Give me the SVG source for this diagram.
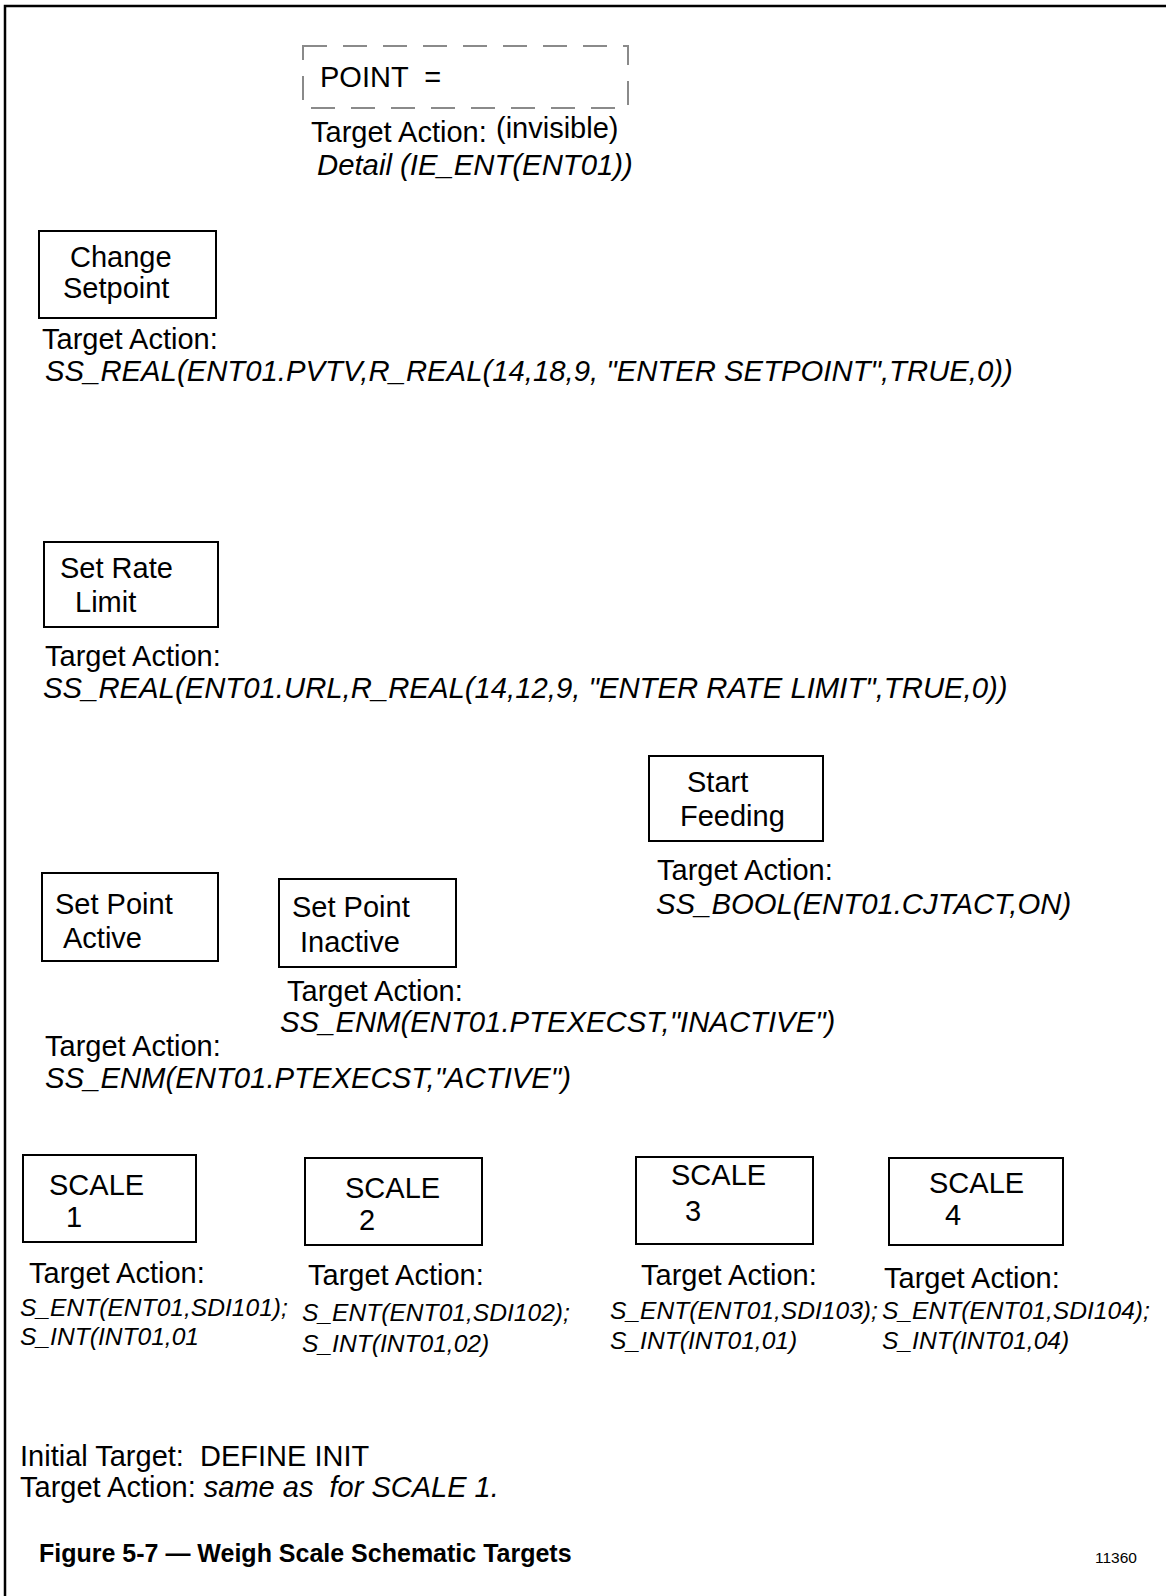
<svg xmlns="http://www.w3.org/2000/svg" width="1166" height="1596" viewBox="0 0 1166 1596">
  <style>
    text { font-family: "Liberation Sans", Arial, sans-serif; fill: #000; white-space: pre; }
    .t { font-size: 29px; }
    .it { font-size: 29.3px; font-style: italic; }
    .sm { font-size: 24.6px; font-style: italic; }
    .box { fill: #fff; stroke: #000; stroke-width: 2; }
    .dash { fill: none; stroke: #8a8a8a; stroke-width: 2; stroke-dasharray: 24 16; }
    .cap { font-size: 25px; font-weight: bold; }
    .num { font-size: 15.5px; }
  </style>
  <rect width="1166" height="1596" fill="#fff"/>
  <!-- page frame: top and left rules only -->
  <path d="M5,1596 V6 H1166" fill="none" stroke="#000" stroke-width="2.5"/>

  <g id="connectors"/>

  <g id="point">
    <rect class="dash" x="303" y="46" width="325" height="62"/>
    <text class="t" x="320" y="87">POINT  =</text>
    <text class="t" x="311" y="142">Target Action:</text>
    <text class="t" x="496" y="138">(invisible)</text>
    <text class="it" x="317" y="175" font-size="28.5px">Detail (IE_ENT(ENT01))</text>
  </g>

  <g id="change-setpoint">
    <rect class="box" x="39" y="231" width="177" height="87"/>
    <text class="t" x="70" y="267">Change</text>
    <text class="t" x="63" y="298">Setpoint</text>
    <text class="t" x="42" y="349">Target Action:</text>
    <text class="it" x="45" y="381">SS_REAL(ENT01.PVTV,R_REAL(14,18,9, "ENTER SETPOINT",TRUE,0))</text>
  </g>

  <g id="set-rate-limit">
    <rect class="box" x="44" y="542" width="174" height="85"/>
    <text class="t" x="60" y="578">Set Rate</text>
    <text class="t" x="75" y="612">Limit</text>
    <text class="t" x="45" y="666">Target Action:</text>
    <text class="it" x="43" y="698">SS_REAL(ENT01.URL,R_REAL(14,12,9, "ENTER RATE LIMIT",TRUE,0))</text>
  </g>

  <g id="start-feeding">
    <rect class="box" x="649" y="756" width="174" height="85"/>
    <text class="t" x="687" y="792">Start</text>
    <text class="t" x="680" y="826">Feeding</text>
    <text class="t" x="657" y="880">Target Action:</text>
    <text class="it" x="656" y="914">SS_BOOL(ENT01.CJTACT,ON)</text>
  </g>

  <g id="set-point-active">
    <rect class="box" x="42" y="873" width="176" height="88"/>
    <text class="t" x="55" y="914">Set Point</text>
    <text class="t" x="63" y="948">Active</text>
    <text class="t" x="45" y="1056">Target Action:</text>
    <text class="it" x="45" y="1088">SS_ENM(ENT01.PTEXECST,"ACTIVE")</text>
  </g>

  <g id="set-point-inactive">
    <rect class="box" x="279" y="879" width="177" height="88"/>
    <text class="t" x="292" y="917">Set Point</text>
    <text class="t" x="300" y="952">Inactive</text>
    <text class="t" x="287" y="1001">Target Action:</text>
    <text class="it" x="280" y="1032">SS_ENM(ENT01.PTEXECST,"INACTIVE")</text>
  </g>

  <g id="scale-1">
    <rect class="box" x="23" y="1155" width="173" height="87"/>
    <text class="t" x="49" y="1195">SCALE</text>
    <text class="t" x="66" y="1227">1</text>
    <text class="t" x="29" y="1283">Target Action:</text>
    <text class="sm" x="20" y="1316">S_ENT(ENT01,SDI101);</text>
    <text class="sm" x="20" y="1345">S_INT(INT01,01</text>
  </g>

  <g id="scale-2">
    <rect class="box" x="305" y="1158" width="177" height="87"/>
    <text class="t" x="345" y="1198">SCALE</text>
    <text class="t" x="359" y="1230">2</text>
    <text class="t" x="308" y="1285">Target Action:</text>
    <text class="sm" x="302" y="1321">S_ENT(ENT01,SDI102);</text>
    <text class="sm" x="302" y="1352">S_INT(INT01,02)</text>
  </g>

  <g id="scale-3">
    <rect class="box" x="636" y="1157" width="177" height="87"/>
    <text class="t" x="671" y="1185">SCALE</text>
    <text class="t" x="685" y="1221">3</text>
    <text class="t" x="641" y="1285">Target Action:</text>
    <text class="sm" x="610" y="1319">S_ENT(ENT01,SDI103);</text>
    <text class="sm" x="610" y="1349">S_INT(INT01,01)</text>
  </g>

  <g id="scale-4">
    <rect class="box" x="889" y="1158" width="174" height="87"/>
    <text class="t" x="929" y="1193">SCALE</text>
    <text class="t" x="945" y="1225">4</text>
    <text class="t" x="884" y="1288">Target Action:</text>
    <text class="sm" x="882" y="1319">S_ENT(ENT01,SDI104);</text>
    <text class="sm" x="882" y="1349">S_INT(INT01,04)</text>
  </g>

  <g id="initial-target">
    <text class="t" x="20" y="1466">Initial Target:  DEFINE INIT</text>
    <text class="t" x="20" y="1497">Target Action: <tspan font-style="italic">same as  for SCALE 1.</tspan></text>
  </g>

  <g id="caption">
    <text class="cap" x="39" y="1562">Figure 5-7 — Weigh Scale Schematic Targets</text>
    <text class="num" x="1095" y="1563">11360</text>
  </g>
</svg>
